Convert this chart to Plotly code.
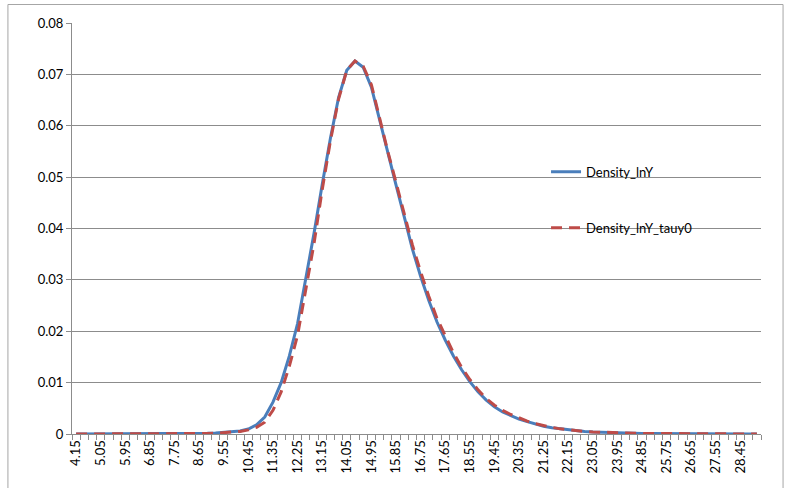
import plotly.graph_objects as go

# Category values (x), step 0.3
x_values = [4.15, 4.45, 4.75, 5.05, 5.35, 5.65, 5.95, 6.25, 6.55, 6.85,
            7.15, 7.45, 7.75, 8.05, 8.35, 8.65, 8.95, 9.25, 9.55, 9.85,
            10.15, 10.45, 10.75, 11.05, 11.35, 11.65, 11.95, 12.25, 12.55, 12.85,
            13.15, 13.45, 13.75, 14.05, 14.35, 14.65, 14.95, 15.25, 15.55, 15.85,
            16.15, 16.45, 16.75, 17.05, 17.35, 17.65, 17.95, 18.25, 18.55, 18.85,
            19.15, 19.45, 19.75, 20.05, 20.35, 20.65, 20.95, 21.25, 21.55, 21.85,
            22.15, 22.45, 22.75, 23.05, 23.35, 23.65, 23.95, 24.25, 24.55, 24.85,
            25.15, 25.45, 25.75, 26.05, 26.35, 26.65, 26.95, 27.25, 27.55, 27.85,
            28.15, 28.45, 28.75, 29.05]

density_lny = [0, 0, 0, 0, 0, 0, 0, 0, 0.00001, 0.00001,
               0.00001, 0.00002, 0.00003, 0.00004, 0.00006, 0.00009, 0.00013, 0.00019, 0.00028, 0.0004,
               0.0006, 0.00098, 0.0018, 0.0033, 0.0062, 0.0100, 0.0152, 0.0215, 0.0300, 0.0390,
               0.0485, 0.0575, 0.0655, 0.0708, 0.0726, 0.0714, 0.0675, 0.0610, 0.0545, 0.0485,
               0.0423, 0.0360, 0.0307, 0.0260, 0.0218, 0.0183, 0.0152, 0.0125, 0.0102, 0.0082,
               0.0066, 0.0053, 0.0043, 0.0036, 0.0029, 0.0024, 0.0019, 0.0015, 0.0012, 0.0010,
               0.0008, 0.00063, 0.0005, 0.0004, 0.00033, 0.00027, 0.00022, 0.00018, 0.00015, 0.00012,
               0.0001, 0.00008, 0.00007, 0.00006, 0.00005, 0.00004, 0.00003, 0.00003, 0.00002, 0.00002,
               0.00002, 0.00001, 0.00001, 0.00001]

density_lny_tauy0 = [0, 0, 0, 0, 0, 0, 0, 0, 0, 0.00001,
                     0.00001, 0.00001, 0.00002, 0.00003, 0.00004, 0.00006, 0.0001, 0.00015, 0.00022, 0.00032,
                     0.0005, 0.0008, 0.0013, 0.0023, 0.0046, 0.0082, 0.0132, 0.0192, 0.0280, 0.0370,
                     0.0475, 0.0570, 0.0652, 0.0708, 0.0726, 0.0716, 0.0680, 0.0614, 0.0550, 0.0490,
                     0.0430, 0.0368, 0.0316, 0.0268, 0.0225, 0.0190, 0.0158, 0.0130, 0.0106, 0.0086,
                     0.0069, 0.0056, 0.0046, 0.0038, 0.0031, 0.0025, 0.0020, 0.0016, 0.0013, 0.0010,
                     0.0008, 0.00063, 0.0005, 0.0004, 0.00033, 0.00027, 0.00022, 0.00018, 0.00015, 0.00012,
                     0.0001, 0.00008, 0.00007, 0.00006, 0.00005, 0.00004, 0.00003, 0.00003, 0.00002, 0.00002,
                     0.00002, 0.00001, 0.00001, 0.00001]

x_tick_labels = ["4.15", "5.05", "5.95", "6.85", "7.75", "8.65", "9.55", "10.45", "11.35",
                 "12.25", "13.15", "14.05", "14.95", "15.85", "16.75", "17.65", "18.55",
                 "19.45", "20.35", "21.25", "22.15", "23.05", "23.95", "24.85", "25.75",
                 "26.65", "27.55", "28.45"]
y_tick_values = [0, 0.01, 0.02, 0.03, 0.04, 0.05, 0.06, 0.07, 0.08]
y_tick_labels = ["0", "0.01", "0.02", "0.03", "0.04", "0.05", "0.06", "0.07", "0.08"]

FONT = "Lato, 'Liberation Sans', sans-serif"
AXIS_GRAY = "#8c8c8c"

fig = go.Figure()
fig.add_trace(go.Scatter(
    x=x_values, y=density_lny, mode="lines", name="Density_lnY",
    line=dict(color="#4A7EBB", width=3), legend="legend"))
fig.add_trace(go.Scatter(
    x=x_values, y=density_lny_tauy0, mode="lines", name="Density_lnY_tauy0",
    line=dict(color="#BE4B48", width=3, dash="11px,7px"), legend="legend2"))

fig.update_layout(
    width=785, height=488,
    margin=dict(l=72, r=24, t=23, b=54),
    paper_bgcolor="white", plot_bgcolor="white",
    font=dict(family=FONT, size=13, color="#000000"),
    showlegend=True,
    legend=dict(x=0.688, y=0.638, xanchor="left", yanchor="middle",
                bgcolor="rgba(0,0,0,0)", font=dict(family=FONT, size=13)),
    legend2=dict(x=0.688, y=0.502, xanchor="left", yanchor="middle",
                 bgcolor="rgba(0,0,0,0)", font=dict(family=FONT, size=13)),
    xaxis=dict(
        type="linear", range=[4.0, 29.2],
        tickmode="array", tickvals=[float(t) for t in x_tick_labels], ticktext=x_tick_labels,
        tickangle=-90, ticks="", showgrid=False, zeroline=False,
        showline=True, linecolor=AXIS_GRAY, linewidth=1,
        minor=dict(tickmode="linear", tick0=4.0, dtick=0.3, ticks="outside",
                   ticklen=5, tickcolor=AXIS_GRAY, showgrid=False),
        tickfont=dict(family=FONT, size=13, color="#000000"),
    ),
    yaxis=dict(
        range=[0, 0.08], tickmode="array", tickvals=y_tick_values, ticktext=y_tick_labels,
        ticks="outside", ticklen=5, tickcolor=AXIS_GRAY,
        showgrid=True, gridcolor=AXIS_GRAY, gridwidth=1, zeroline=False,
        showline=True, linecolor=AXIS_GRAY, linewidth=1,
        tickfont=dict(family=FONT, size=13, color="#000000"),
    ),
    shapes=[dict(type="rect", xref="paper", yref="paper",
                 x0=-0.093, x1=1.032, y0=-0.2, y1=1.045,
                 line=dict(color="#a6a6a6", width=1), fillcolor="rgba(0,0,0,0)", layer="below")],
)

fig.write_html("out.html",
               config={"displayModeBar": False},
               post_script="document.body.style.margin='0';document.body.style.overflow='hidden';")
